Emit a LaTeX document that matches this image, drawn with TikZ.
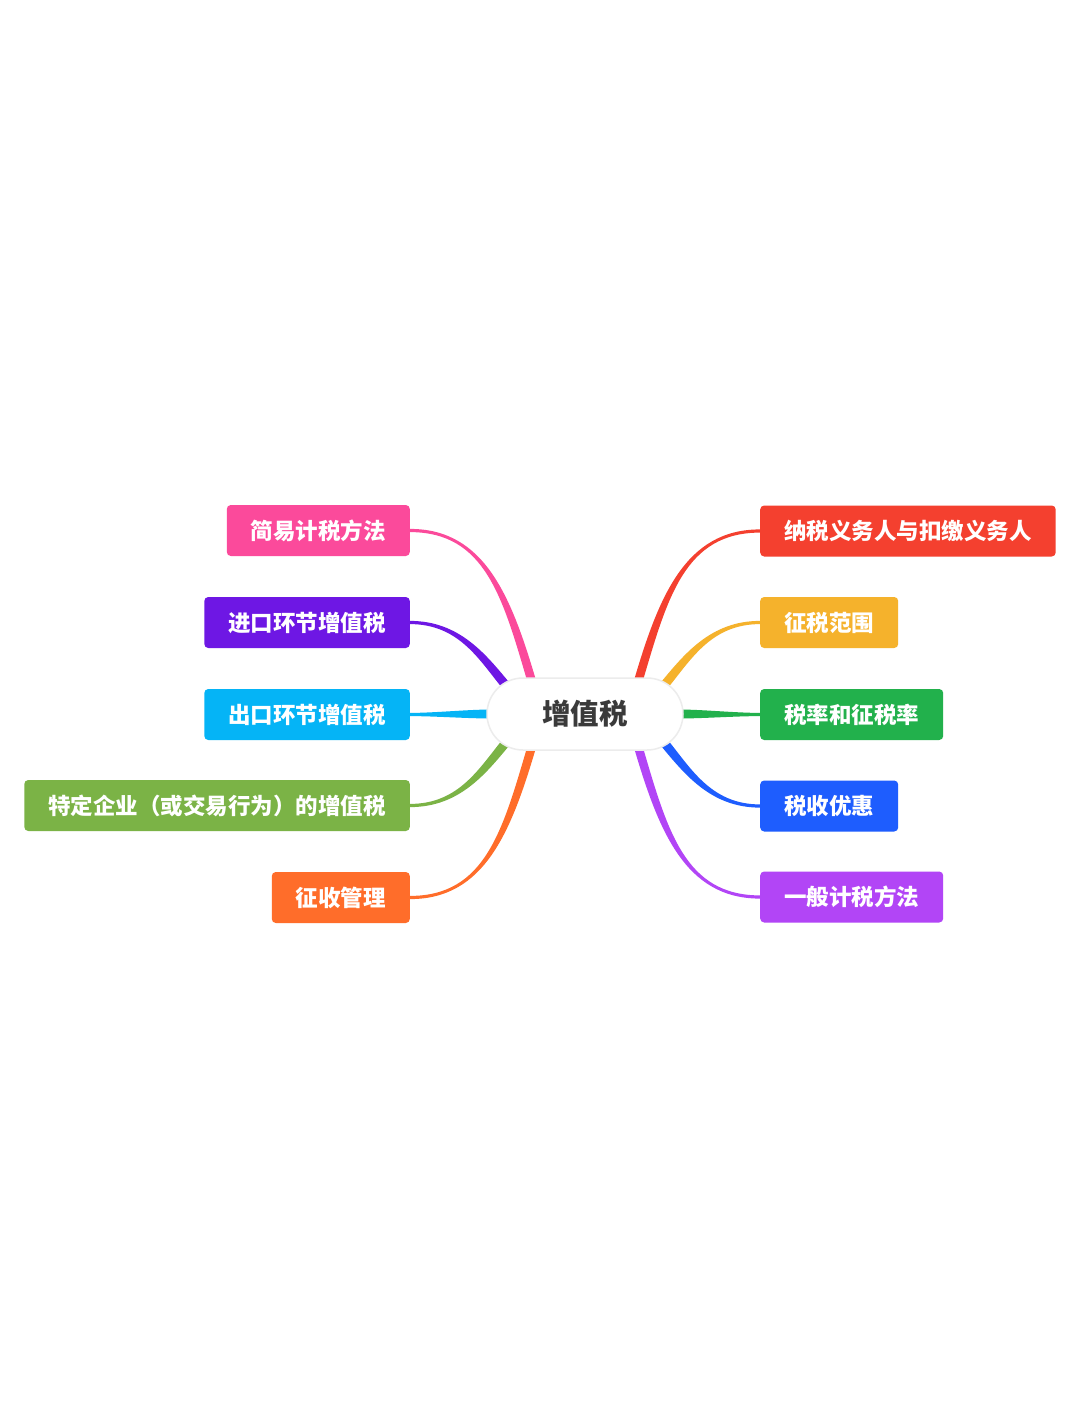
\documentclass[tikz,border=0pt]{standalone}
\usepackage{fontspec}
\newfontfamily\cjk{Noto Sans CJK SC}
\usetikzlibrary{positioning,calc,backgrounds}
\definecolor{rootgray}{HTML}{3A3A3A}
\definecolor{rootline}{HTML}{ECECEC}
\definecolor{pinkc}{HTML}{FB4A9B}
\definecolor{purplec}{HTML}{6E17E4}
\definecolor{cyanc}{HTML}{05B4F6}
\definecolor{lgreenc}{HTML}{7BB346}
\definecolor{orangec}{HTML}{FF6D2A}
\definecolor{redc}{HTML}{F4402F}
\definecolor{yellowc}{HTML}{F5B22C}
\definecolor{greenc}{HTML}{22B14C}
\definecolor{bluec}{HTML}{1E5DFE}
\definecolor{violetc}{HTML}{B245F6}
\tikzset{
  % --- central topic ---
  root/.style={draw=rootline, line width=1.5pt, fill=white, rounded corners=36pt,
               minimum width=196pt, minimum height=72pt, inner sep=0pt,
               text=rootgray, font=\cjk\bfseries\fontsize{28.5}{32}\selectfont},
  % --- branch topics ---
  leaf/.style={rounded corners=4pt, text=white, inner xsep=24pt, inner ysep=0pt,
               minimum height=51pt, font=\cjk\bfseries\fontsize{22.5}{26}\selectfont},
  leftleaf/.style={leaf, anchor=east},
  rightleaf/.style={leaf, anchor=west},
}
% tapered branch: colour, box anchor, centre end, ctrl at box, ctrl at centre, half width
\newcommand\twig[7]{%
  \fill[#1] ($(#2)+(0,1.6)$) .. controls +(#4) and +(#5) .. ($(#3)+(#6,#7)$)
    -- ($(#3)-(#6,#7)$) .. controls +(#5) and +(#4) .. ($(#2)-(0,1.6)$) -- cycle;}
\begin{document}
\begin{tikzpicture}[x=1pt,y=-1pt]
  \useasboundingbox (0,0) rectangle (1080,1427);
  \node[root] (vat) at (585,714) {增值税};
  % left side
  \node[leftleaf, fill=pinkc]   (jyjs) at (410,530.5) {简易计税方法};
  \node[leftleaf, fill=purplec] (jkhj) at (410,622.5) {进口环节增值税};
  \node[leftleaf, fill=cyanc]   (ckhj) at (410,714.5) {出口环节增值税};
  \node[leftleaf, fill=lgreenc] (tdqy) at (410,805.5) {特定企业（或交易行为）的增值税};
  \node[leftleaf, fill=orangec] (zsgl) at (410,897.5) {征收管理};
  % right side
  \node[rightleaf, fill=redc]    (nsyw) at (760,531) {纳税义务人与扣缴义务人};
  \node[rightleaf, fill=yellowc] (zsfw) at (760,622.5) {征税范围};
  \node[rightleaf, fill=greenc]  (slzs) at (760,714.5) {税率和征税率};
  \node[rightleaf, fill=bluec]   (ssyh) at (760,806) {税收优惠};
  \node[rightleaf, fill=violetc] (ybjs) at (760,897) {一般计税方法};
  % ends of the branches, just inside the root
  \coordinate (l1) at ($(vat)+(-53,-32)$);
  \coordinate (l2) at ($(vat)+(-77,-26)$);
  \coordinate (l3) at ($(vat)+(-93,0)$);
  \coordinate (l4) at ($(vat)+(-77,26)$);
  \coordinate (l5) at ($(vat)+(-53,32)$);
  \coordinate (r1) at ($(vat)+(53,-32)$);
  \coordinate (r2) at ($(vat)+(77,-26)$);
  \coordinate (r3) at ($(vat)+(93,0)$);
  \coordinate (r4) at ($(vat)+(77,26)$);
  \coordinate (r5) at ($(vat)+(53,32)$);
  \begin{scope}[on background layer]
    \fill[white] (0,0) rectangle (1080,1427);
    \twig{pinkc}{jyjs.east}{l1}{75,0}{-25,-85}{-4.5}{0}
    \twig{purplec}{jkhj.east}{l2}{50,0}{-25,-30}{-3.2}{3.2}
    \twig{cyanc}{ckhj.east}{l3}{25,0}{-25,0}{0}{4.5}
    \twig{lgreenc}{tdqy.east}{l4}{50,0}{-25,30}{3.2}{3.2}
    \twig{orangec}{zsgl.east}{l5}{75,0}{-25,85}{4.5}{0}
    \twig{redc}{nsyw.west}{r1}{-75,0}{25,-85}{4.5}{0}
    \twig{yellowc}{zsfw.west}{r2}{-50,0}{25,-30}{3.2}{3.2}
    \twig{greenc}{slzs.west}{r3}{-25,0}{25,0}{0}{4.5}
    \twig{bluec}{ssyh.west}{r4}{-50,0}{25,30}{-3.2}{3.2}
    \twig{violetc}{ybjs.west}{r5}{-75,0}{25,85}{-4.5}{0}
  \end{scope}
\end{tikzpicture}
\end{document}
